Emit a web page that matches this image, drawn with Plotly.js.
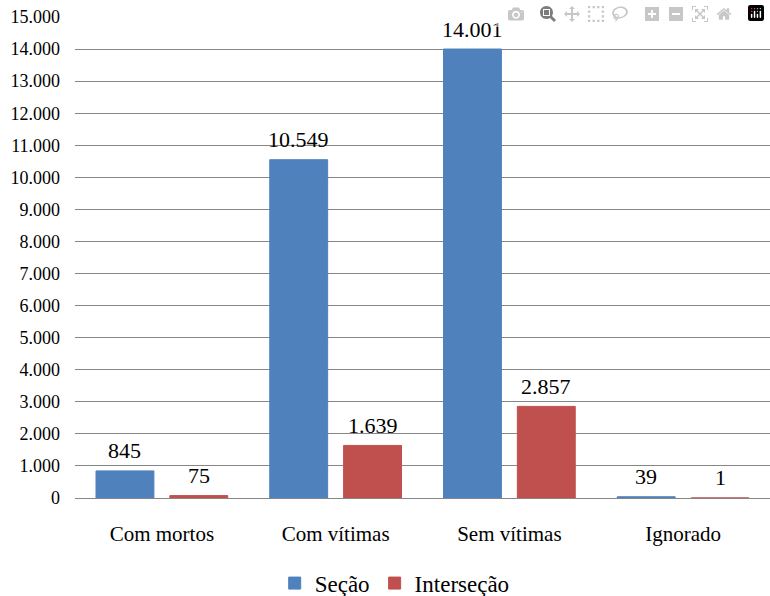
<!DOCTYPE html>
<html>
<head>
<meta charset="utf-8">
<script src="https://cdn.plot.ly/plotly-3.0.1.min.js"></script>
<style>
  html, body { margin: 0; padding: 0; background: #fff; }
  #chart { width: 770px; height: 596px; }
</style>
</head>
<body>
<div id="chart"></div>
<script>
// Accident counts by severity, split by location type
const categories = ['Com mortos', 'Com vítimas', 'Sem vítimas', 'Ignorado'];
const secao = [845, 10549, 14001, 39];
const intersecao = [75, 1639, 2857, 1];
const yTicks = [0, 1000, 2000, 3000, 4000, 5000, 6000, 7000, 8000, 9000, 10000, 11000, 12000, 13000, 14000, 15000];

const FONT = 'Liberation Serif';
const blue = '#4F81BD';
const red = '#C0504D';

// Brazilian thousands separator: 14001 -> "14.001"
function fmt(v) {
  return String(v).replace(/\B(?=(\d{3})+(?!\d))/g, '.');
}

const traces = [
  { name: 'Seção', y: secao, color: blue },
  { name: 'Interseção', y: intersecao, color: red }
].map(s => ({
  type: 'bar',
  name: s.name,
  x: categories,
  y: s.y,
  marker: { color: s.color, line: { color: s.color, width: 1 } },
  hoverinfo: 'skip'
}));

// Value labels above each bar, offset left/right to sit over its bar in the group
const annotations = [];
[[secao, -37], [intersecao, 37]].forEach(([vals, dx]) => {
  vals.forEach((v, i) => {
    annotations.push({
      x: categories[i], y: v, xref: 'x', yref: 'y',
      text: fmt(v), showarrow: false,
      xshift: dx, yshift: 20, yanchor: 'middle',
      font: { size: 22 }
    });
  });
});

const layout = {
  margin: { l: 75, r: 0, t: 17, b: 98, autoexpand: false },
  paper_bgcolor: '#fff',
  plot_bgcolor: '#fff',
  separators: ',.',
  font: { family: FONT, size: 18, color: '#000' },
  barmode: 'group',
  bargap: 0.15,
  bargroupgap: 0.216,
  showlegend: true,
  annotations: annotations,
  legend: {
    orientation: 'h',
    x: 0.46, xanchor: 'center',
    y: -0.177, yanchor: 'middle',
    font: { size: 23 }
  },
  xaxis: {
    showgrid: false,
    showline: false,
    zeroline: false,
    ticks: '',
    ticklabelstandoff: 21,
    tickfont: { size: 21 }
  },
  yaxis: {
    range: [0, 15000],
    tickvals: yTicks,
    tickformat: ',d',
    showgrid: true,
    gridcolor: '#868686',
    zeroline: true,
    zerolinecolor: '#868686',
    showline: false,
    ticks: '',
    ticklabelstandoff: 14
  }
};

Plotly.newPlot('chart', traces, layout);
</script>
</body>
</html>
